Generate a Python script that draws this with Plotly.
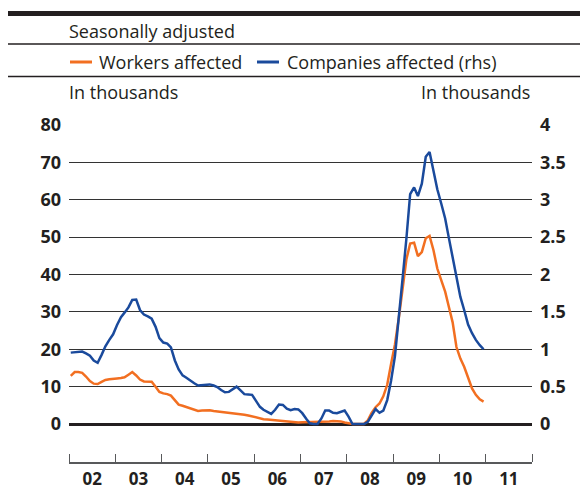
import pandas as pd
import plotly.graph_objects as go

# Monthly data, Jan 2002 - Dec 2010 (thousands)
months = pd.date_range("2002-01-01", periods=108, freq="MS") + pd.Timedelta(days=14)

workers_affected = [
    12.9, 13.9, 13.9, 13.7, 12.7, 11.5, 10.8, 10.7, 11.3, 11.8, 12.0, 12.0,   # 2002
    12.2, 12.3, 12.5, 13.2, 13.9, 13.0, 11.9, 11.4, 11.3, 11.3, 10.0, 8.6,    # 2003
    8.2, 8.0, 7.6, 6.3, 5.2, 4.9, 4.6, 4.2, 3.8, 3.5, 3.6, 3.7,               # 2004
    3.7, 3.5, 3.4, 3.2, 3.1, 3.0, 2.9, 2.8, 2.6, 2.5, 2.3, 2.0,               # 2005
    1.8, 1.5, 1.3, 1.2, 1.1, 1.0, 0.9, 0.8, 0.7, 0.6, 0.5, 0.4,               # 2006
    0.5, 0.5, 0.5, 0.5, 0.6, 0.6, 0.7, 0.7, 0.8, 0.8, 0.7, 0.4,               # 2007
    0.1, 0.0, 0.0, 0.0, 0.0, 1.0, 3.0, 4.5, 5.5, 7.4, 10.5, 16.0,             # 2008
    21.3, 28.5, 36.5, 44.0, 48.3, 48.5, 44.9, 46.0, 49.7, 50.3, 46.5, 41.6,   # 2009
    38.5, 35.4, 31.5, 27.2, 20.6, 17.5, 15.3, 12.2, 9.5, 7.8, 6.6, 6.0,       # 2010
]

companies_affected = [
    0.955, 0.96, 0.965, 0.97, 0.945, 0.915, 0.85, 0.82, 0.925, 1.04, 1.125, 1.2,       # 2002
    1.325, 1.43, 1.49, 1.56, 1.66, 1.665, 1.525, 1.465, 1.44, 1.41, 1.30, 1.15,        # 2003
    1.09, 1.075, 1.025, 0.85, 0.73, 0.65, 0.62, 0.58, 0.545, 0.515, 0.52, 0.53,        # 2004
    0.53, 0.515, 0.495, 0.455, 0.425, 0.43, 0.47, 0.50, 0.45, 0.40, 0.395, 0.39,       # 2005
    0.31, 0.23, 0.19, 0.16, 0.135, 0.19, 0.26, 0.255, 0.205, 0.185, 0.20, 0.195,       # 2006
    0.145, 0.07, 0.01, 0.0, 0.0, 0.075, 0.18, 0.18, 0.15, 0.145, 0.165, 0.18,          # 2007
    0.10, 0.0, 0.0, 0.0, 0.0, 0.03, 0.12, 0.20, 0.15, 0.18, 0.32, 0.575,               # 2008
    0.91, 1.40, 1.925, 2.475, 3.075, 3.165, 3.05, 3.215, 3.575, 3.64, 3.395, 3.14,     # 2009
    2.95, 2.75, 2.50, 2.225, 1.95, 1.70, 1.525, 1.33, 1.215, 1.125, 1.055, 1.0,        # 2010
]

left_ticks = [0, 10, 20, 30, 40, 50, 60, 70, 80]
right_ticks = [0, 0.5, 1, 1.5, 2, 2.5, 3, 3.5, 4]
right_labels = ["0", "0.5", "1", "1.5", "2", "2.5", "3", "3.5", "4"]

ORANGE = "#f26f21"
BLUE = "#1a4a9c"
INK = "#231f20"
FONT = "Open Sans"

fig = go.Figure()
fig.add_trace(go.Scatter(x=months, y=workers_affected, name="Workers affected",
                         mode="lines", line=dict(color=ORANGE, width=2.5), yaxis="y"))
fig.add_trace(go.Scatter(x=months, y=companies_affected, name="Companies affected (rhs)",
                         mode="lines", line=dict(color=BLUE, width=2.5), yaxis="y2"))

# page has an 8px body margin; figure is sized to the visible area
OFF = 8
W, H = 580, 481
L, R, T, B = 61, 56, 117, 27
pw, ph = W - L - R, H - T - B

def px(x):
    return (x - OFF - L) / pw

def py(y):
    return (H - B - (y - OFF)) / ph

tick_font = dict(family=FONT, size=18, color=INK, weight="bold")

fig.update_layout(
    width=W, height=H,
    margin=dict(l=L, r=R, t=T, b=B, autoexpand=False),
    paper_bgcolor="white", plot_bgcolor="white",
    showlegend=False,
    xaxis=dict(
        type="date", automargin=False,
        range=["2002-01-01", "2012-01-01"],
        tick0="2002-01-01", dtick="M12",
        ticklabelmode="period", tickformat="%y",
        ticks="inside", ticklen=8, tickwidth=1.3, tickcolor="#58595b",
        showline=True, linecolor="#58595b", linewidth=1.5,
        showgrid=False, zeroline=False,
        ticklabelstandoff=1,
        tickfont=dict(family=FONT, size=17, color=INK, weight="bold"),
    ),
    yaxis=dict(
        automargin=False,
        range=[-10.16, 80],
        tickvals=left_ticks,
        showgrid=True, gridcolor="#333333", gridwidth=1,
        zeroline=True, zerolinecolor=INK, zerolinewidth=3,
        ticks="", ticklabelstandoff=7,
        tickfont=tick_font,
    ),
    yaxis2=dict(
        automargin=False,
        overlaying="y", side="right",
        range=[-0.508, 4],
        tickvals=right_ticks, ticktext=right_labels,
        showgrid=False, zeroline=False,
        ticks="", ticklabelstandoff=7,
        tickfont=tick_font,
    ),
)

shapes = [
    dict(type="rect", xref="paper", yref="paper", x0=px(8), x1=px(588), y0=py(16), y1=py(11),
         fillcolor=INK, line=dict(width=0)),
    dict(type="line", xref="paper", yref="paper", x0=px(8), x1=px(588), y0=py(44), y1=py(44),
         line=dict(color=INK, width=1.3)),
    dict(type="line", xref="paper", yref="paper", x0=px(8), x1=px(588), y0=py(76.5), y1=py(76.5),
         line=dict(color=INK, width=1.3)),
    dict(type="line", xref="paper", yref="paper", x0=px(70), x1=px(92), y0=py(62), y1=py(62),
         line=dict(color=ORANGE, width=3)),
    dict(type="line", xref="paper", yref="paper", x0=px(257), x1=px(279), y0=py(62), y1=py(62),
         line=dict(color=BLUE, width=3)),
]
fig.update_layout(shapes=shapes)

text_font = dict(family=FONT, size=18, color=INK)
ann = [
    dict(text="Seasonally adjusted", x=px(69), y=py(31), xanchor="left", yanchor="middle"),
    dict(text="Workers affected", x=px(99), y=py(62), xanchor="left", yanchor="middle"),
    dict(text="Companies affected (rhs)", x=px(287), y=py(62), xanchor="left", yanchor="middle"),
    dict(text="In thousands", x=px(69), y=py(92), xanchor="left", yanchor="middle"),
    dict(text="In thousands", x=px(534), y=py(92), xanchor="right", yanchor="middle"),
]
for a in ann:
    a.update(xref="paper", yref="paper", showarrow=False, font=text_font, xshift=-2)
fig.update_layout(annotations=ann)

fig.write_html("out.html")
